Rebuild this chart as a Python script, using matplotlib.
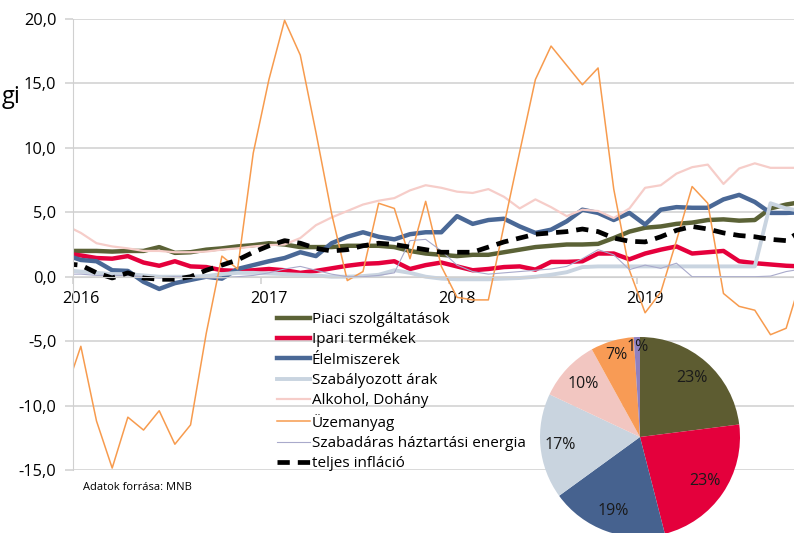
import numpy as np
import matplotlib
matplotlib.use('Agg')
import matplotlib.pyplot as plt
from matplotlib.ticker import FuncFormatter

plt.rcParams['font.family'] = ['Open Sans', 'DejaVu Sans']

# month index: 0 = 2016 január, -1 = 2015 dec (clipped at the axis)
months = np.arange(-1, 47)

piaci = [2.0, 2.0, 2.0, 1.95, 2.0, 2.0, 2.3, 1.85, 1.9, 2.1, 2.2, 2.35, 2.45, 2.6, 2.5, 2.3,
         2.3, 2.3, 2.4, 2.4, 2.4, 2.3, 2.0, 1.8, 1.7, 1.6, 1.7, 1.7, 1.9, 2.1, 2.3, 2.4,
         2.5, 2.5, 2.55, 3.0, 3.5, 3.8, 3.9, 4.1, 4.2, 4.4, 4.45, 4.35, 4.4, 5.3, 5.6, 5.8]
ipari = [1.8, 1.65, 1.45, 1.4, 1.6, 1.1, 0.85, 1.2, 0.8, 0.75, 0.5, 0.45, 0.5, 0.6, 0.5, 0.3,
         0.45, 0.65, 0.85, 1.0, 1.05, 1.2, 0.6, 0.9, 1.1, 0.8, 0.5, 0.6, 0.75, 0.8, 0.55, 1.15,
         1.15, 1.2, 1.8, 1.8, 1.35, 1.8, 2.1, 2.35, 1.8, 1.9, 2.0, 1.2, 1.05, 0.95, 0.85, 0.8]
elelmiszer = [1.7, 1.3, 1.2, 0.5, 0.45, -0.4, -0.95, -0.5, -0.25, 0.0, -0.15, 0.6, 0.9, 1.2, 1.45, 1.9,
              1.6, 2.6, 3.1, 3.45, 3.1, 2.9, 3.3, 3.45, 3.45, 4.7, 4.1, 4.4, 4.5, 3.9, 3.4, 3.65,
              4.3, 5.2, 4.95, 4.4, 4.95, 4.05, 5.2, 5.4, 5.35, 5.35, 6.0, 6.35, 5.8, 4.95, 4.95, 5.0]
szabalyozott = [0.5, 0.4, 0.3, 0.2, 0.2, 0.1, 0.0, 0.0, 0.0, 0.05, 0.2, 0.3, 0.3, 0.25, 0.2, 0.15,
                0.1, 0.0, 0.0, 0.05, 0.15, 0.5, 0.3, 0.0, -0.15, -0.2, -0.2, -0.2, -0.15, -0.1, 0.0, 0.15,
                0.35, 0.75, 0.8, 0.8, 0.8, 0.8, 0.8, 0.8, 0.8, 0.8, 0.8, 0.8, 0.8, 5.7, 5.3, 5.1]
alkohol = [4.0, 3.4, 2.6, 2.35, 2.2, 2.0, 2.0, 1.9, 1.9, 1.95, 2.1, 2.2, 2.35, 2.45, 2.5, 3.0,
           4.0, 4.6, 5.1, 5.6, 5.9, 6.1, 6.7, 7.1, 6.9, 6.6, 6.5, 6.8, 6.2, 5.3, 6.0, 5.4,
           4.7, 5.2, 5.1, 4.55, 5.3, 6.9, 7.1, 8.0, 8.5, 8.7, 7.2, 8.4, 8.8, 8.45, 8.45, 8.45]
uzemanyag = [-9.0, -5.4, -11.2, -14.85, -10.9, -11.9, -10.4, -13.0, -11.5, -4.4, 1.6, 0.6, 9.6, 15.3, 19.9, 17.2,
             11.2, 4.9, -0.3, 0.4, 5.7, 5.3, 1.4, 5.85, 0.8, -1.6, -1.8, -1.8, 4.0, 9.7, 15.3, 17.9,
             16.4, 14.9, 16.2, 6.8, 0.5, -2.8, -1.2, 2.8, 7.0, 5.7, -1.3, -2.3, -2.6, -4.5, -4.0, 0.0]
szabadaras = [0.2, 0.2, 0.1, 0.1, 0.1, 0.0, -0.1, 0.0, 0.0, -0.1, -0.1, 0.0, 0.1, 0.3, 0.6, 0.8,
              0.5, 0.2, 0.0, 0.0, 0.1, 0.3, 2.8, 2.9, 2.0, 0.9, 0.4, 0.2, 0.3, 0.4, 0.5, 0.6,
              0.8, 1.4, 2.1, 1.7, 0.55, 0.9, 0.65, 1.05, 0.0, 0.0, 0.0, 0.0, 0.0, 0.05, 0.4, 0.6]
teljes = [1.0, 0.9, 0.3, -0.1, 0.3, -0.1, -0.2, -0.2, 0.0, 0.5, 0.9, 1.3, 1.9, 2.4, 2.8, 2.6,
          2.2, 2.0, 2.1, 2.4, 2.6, 2.5, 2.3, 2.1, 1.9, 1.9, 1.9, 2.3, 2.7, 3.0, 3.3, 3.4,
          3.5, 3.7, 3.5, 3.0, 2.75, 2.7, 3.1, 3.6, 3.9, 3.7, 3.4, 3.2, 3.1, 2.9, 2.8, 3.6]

year_labels = ['2016', '2017', '2018', '2019']
year_pos = [0, 12, 24, 36]

pie_vals = [23, 23, 19, 17, 10, 7, 1]
pie_colors = ['#5d5c31', '#e4003c', '#46628f', '#c9d4df', '#f2c6c1', '#f89b55', '#8f80c0']
pie_label_r = [0.78, 0.78, 0.79, 0.80, 0.78, 0.85, 0.90]

series = [
    ('Piaci szolgáltatások', piaci, '#5b6236', 3.2, None),
    ('Ipari termékek', ipari, '#e5003c', 3.2, None),
    ('Élelmiszerek', elelmiszer, '#4a6896', 3.2, None),
    ('Szabályozott árak', szabalyozott, '#c9d4e0', 2.8, None),
    ('Alkohol, Dohány', alkohol, '#f6cdc9', 1.6, None),
    ('Üzemanyag', uzemanyag, '#f79b4e', 1.1, None),
    ('Szabadáras háztartási energia', szabadaras, '#a9aacb', 0.8, None),
    ('teljes infláció', teljes, 'black', 3.4, (2.6, 1.7)),
]

fig = plt.figure(figsize=(7.94, 5.33), dpi=100)
ax = fig.add_axes([73 / 794, 1 - 470 / 533, 721 / 794, 451 / 533])

for name, vals, col, lw, dash in series:
    if dash:
        ax.plot(months, vals, color=col, lw=lw, dashes=dash, label=name)
    else:
        ax.plot(months, vals, color=col, lw=lw, label=name, solid_joinstyle='round')

grid_col = '#d0d0d0'
ax.set_xlim(-0.5, 45.5)
ax.set_ylim(-15, 20)
ax.set_yticks(np.arange(-15, 21, 5))
ax.yaxis.set_major_formatter(FuncFormatter(lambda v, p: f'{v:.1f}'.replace('.', ',')))
ax.grid(axis='y', color=grid_col, lw=1.1)
ax.set_axisbelow(True)
ax.tick_params(axis='y', length=6, color=grid_col, width=1.1, labelsize=11.8, pad=6)

ax.spines['top'].set_visible(False)
ax.spines['right'].set_visible(False)
ax.spines['left'].set_color(grid_col)
ax.spines['bottom'].set_color(grid_col)
ax.spines['bottom'].set_position(('data', 0))

ax.set_xticks(year_pos)
ax.set_xticklabels(year_labels)
ax.set_xticks([-0.5, 11.5, 23.5, 35.5], minor=True)
ax.tick_params(axis='x', which='major', length=0, labelsize=11.8, pad=10)
ax.tick_params(axis='x', which='minor', length=5, color=grid_col, width=1.1)

leg = ax.legend(loc='upper left', bbox_to_anchor=(277 / 794, 1 - 312 / 533),
                bbox_transform=fig.transFigure, frameon=False, fontsize=11,
                handlelength=2.15, handletextpad=0.12, labelspacing=0.35, borderpad=0,
                borderaxespad=0)

# pie of weights
pax = fig.add_axes([540 / 794, 1 - 537 / 533, 200 / 794, 200 / 533])
wedges, _ = pax.pie(pie_vals, colors=pie_colors, startangle=90, counterclock=False,
                    wedgeprops=dict(linewidth=0))
for w, v, r in zip(wedges, pie_vals, pie_label_r):
    ang = np.deg2rad((w.theta1 + w.theta2) / 2)
    pax.text(r * np.cos(ang), r * np.sin(ang), f'{v}%', ha='center', va='center',
             fontsize=11.5, color='#1a1a1a')
pax.set_xlim(-1, 1)
pax.set_ylim(-1, 1)
pax.set_aspect('equal')
pax.axis('off')

fig.text(21 / 794, 1 - 97 / 533, 'gi', ha='right', va='center', fontsize=17)
fig.text(83 / 794, 1 - 487 / 533, 'Adatok forrása: MNB', fontsize=8, va='center')

fig.savefig('out.png', dpi=100)
